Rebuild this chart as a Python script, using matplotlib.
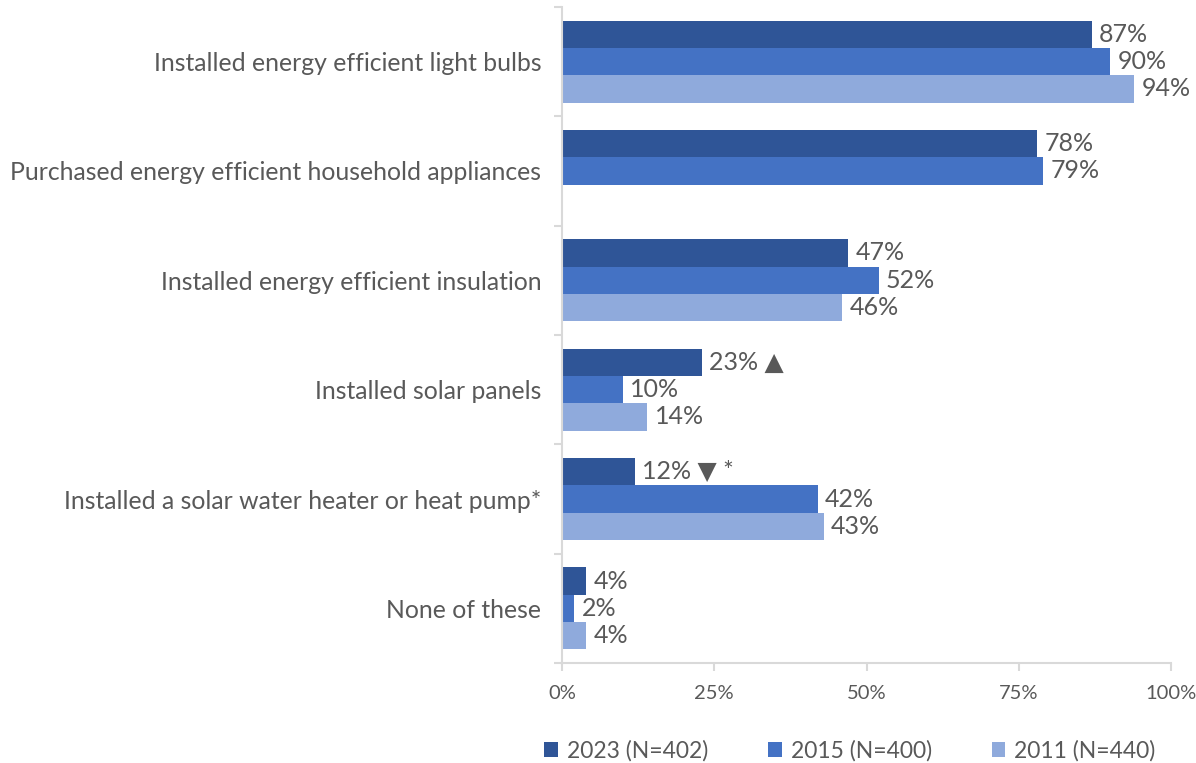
import numpy as np
import matplotlib
matplotlib.use("Agg")
import matplotlib.pyplot as plt
from matplotlib.ticker import FixedLocator, PercentFormatter

categories = [
    "Installed energy efficient light bulbs",
    "Purchased energy efficient household appliances",
    "Installed energy efficient insulation",
    "Installed solar panels",
    "Installed a solar water heater or heat pump*",
    "None of these",
]
series_names = ["2023 (N=402)", "2015 (N=400)", "2011 (N=440)"]
v2023 = [87, 78, 47, 23, 12, 4]
v2015 = [90, 79, 52, 10, 42, 2]
v2011 = [94, np.nan, 46, 14, 43, 4]
# extra markers after some 2023 labels
marks2023 = ["", "", "", " \u25b2", " \u25bc *", ""]

colors = ["#2F5597", "#4472C4", "#8FAADC"]
text_col = "#595959"
axis_col = "#D9D9D9"

plt.rcParams["font.family"] = ["Lato", "DejaVu Sans"]

fig = plt.figure(figsize=(11.96, 7.63), dpi=100)
ax = fig.add_axes([0.470, 0.131, 0.509, 0.860])

y = np.arange(len(categories))
h = 0.25
for i, (vals, col, name) in enumerate(zip([v2023, v2015, v2011], colors, series_names)):
    pos = y + (i - 1) * h
    vals = np.array(vals, dtype=float)
    ok = ~np.isnan(vals)
    ax.barh(pos[ok], vals[ok], height=h, color=col, label=name)
    for j in np.where(ok)[0]:
        txt = f"{vals[j]:.0f}%"
        if i == 0:
            txt += marks2023[j]
        ax.text(vals[j] + 1.2, pos[j], txt, va="center", ha="left",
                fontsize=18, color=text_col)

ax.set_xlim(0, 100)
ax.set_ylim(len(categories) - 0.5, -0.5)
ax.xaxis.set_major_locator(FixedLocator([0, 25, 50, 75, 100]))
ax.xaxis.set_major_formatter(PercentFormatter(decimals=0))
ax.set_yticks(y)
ax.set_yticklabels(categories)
ax.yaxis.set_minor_locator(FixedLocator(np.arange(-0.5, len(categories), 1)))
ax.tick_params(axis="y", which="major", length=0, pad=15, labelsize=17.8, labelcolor=text_col)
ax.tick_params(axis="y", which="minor", length=6, color=axis_col, width=1.5)
ax.tick_params(axis="x", which="major", length=6, color=axis_col, width=1.5,
               labelsize=14.5, labelcolor=text_col, pad=10)

for s in ["top", "right"]:
    ax.spines[s].set_visible(False)
ax.spines["left"].set_color(axis_col)
ax.spines["left"].set_linewidth(1.5)
ax.spines["bottom"].set_color(axis_col)
ax.spines["bottom"].set_linewidth(1.5)

leg = fig.legend(loc="center left", bbox_to_anchor=(0.455, 0.016), ncol=3, frameon=False,
                 fontsize=16.5, handlelength=0.6, handleheight=0.6, handletextpad=0.4,
                 columnspacing=2.6, borderaxespad=0, borderpad=0)
for t in leg.get_texts():
    t.set_color(text_col)

fig.savefig("out.png", dpi=100)
